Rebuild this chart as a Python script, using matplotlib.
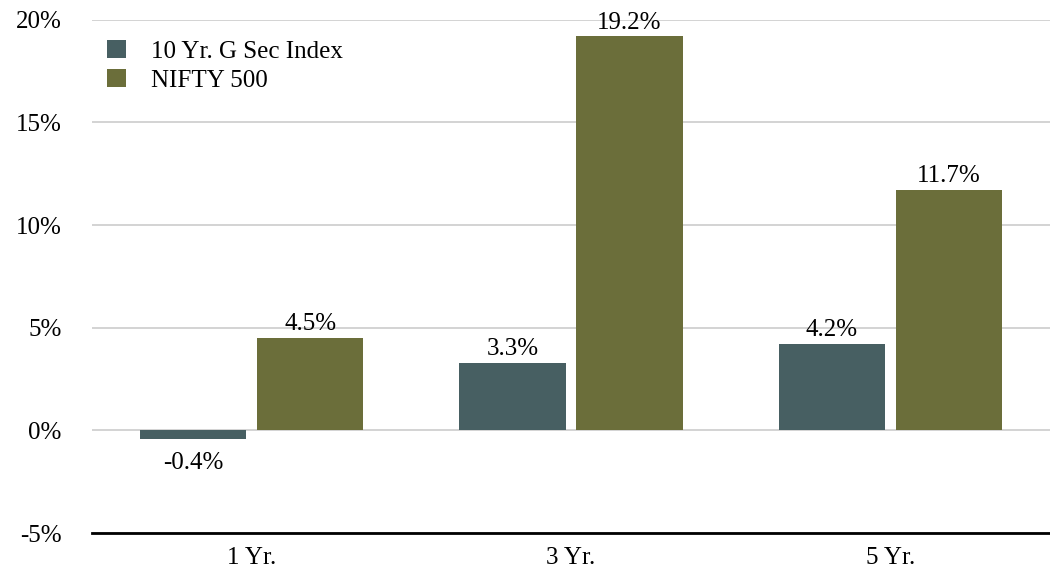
import numpy as np
import matplotlib.pyplot as plt
from matplotlib.ticker import FuncFormatter

# Data
periods = ['1 Yr.', '3 Yr.', '5 Yr.']
gsec = [-0.4, 3.3, 4.2]
nifty = [4.5, 19.2, 11.7]
series_names = ['10 Yr. G Sec Index', 'NIFTY 500']
colors = ['#475f62', '#6b6e3a']

plt.rcParams['font.family'] = ['Liberation Serif', 'DejaVu Serif']

fig = plt.figure(figsize=(10.5, 5.74), dpi=100)
ax = fig.add_axes([0.0876, 0.0714, 0.9124, 0.894])

x = np.arange(len(periods))
w = 0.333
gap = 0.034
off = (w + gap) / 2

bars1 = ax.bar(x - off, gsec, w, color=colors[0], label=series_names[0], zorder=3)
bars2 = ax.bar(x + off, nifty, w, color=colors[1], label=series_names[1], zorder=3)

# Value labels
for bars in (bars1, bars2):
    for b in bars:
        v = b.get_height()
        cx = b.get_x() + b.get_width() / 2
        if v >= 0:
            ax.annotate(f'{v:.1f}%', (cx, v), xytext=(0, 2), textcoords='offset points',
                        ha='center', va='bottom', fontsize=18)
        else:
            ax.annotate(f'{v:.1f}%', (cx, v), xytext=(0, -10), textcoords='offset points',
                        ha='center', va='top', fontsize=18)

ax.set_ylim(-5, 20)
ax.set_xlim(-0.5, 2.5)
ax.set_yticks([-5, 0, 5, 10, 15, 20])
ax.yaxis.set_major_formatter(FuncFormatter(lambda v, p: f'{int(v)}%'))
ax.set_xticks(x)
ax.set_xticklabels(periods)
ax.tick_params(axis='both', length=0, labelsize=18)
ax.tick_params(axis='y', pad=22)
ax.tick_params(axis='x', pad=10)

ax.grid(axis='y', color='#cccccc', linewidth=1.2, zorder=0)
for s in ['top', 'right', 'left']:
    ax.spines[s].set_visible(False)
ax.spines['bottom'].set_linewidth(2)
ax.spines['bottom'].set_color('black')

ax.legend(loc='upper left', bbox_to_anchor=(-0.008, 1.005), frameon=False, fontsize=18,
          handlelength=0.75, handleheight=0.75, handletextpad=1.0, labelspacing=0.25,
          borderaxespad=0.5)

plt.savefig('out.png', dpi=100)
